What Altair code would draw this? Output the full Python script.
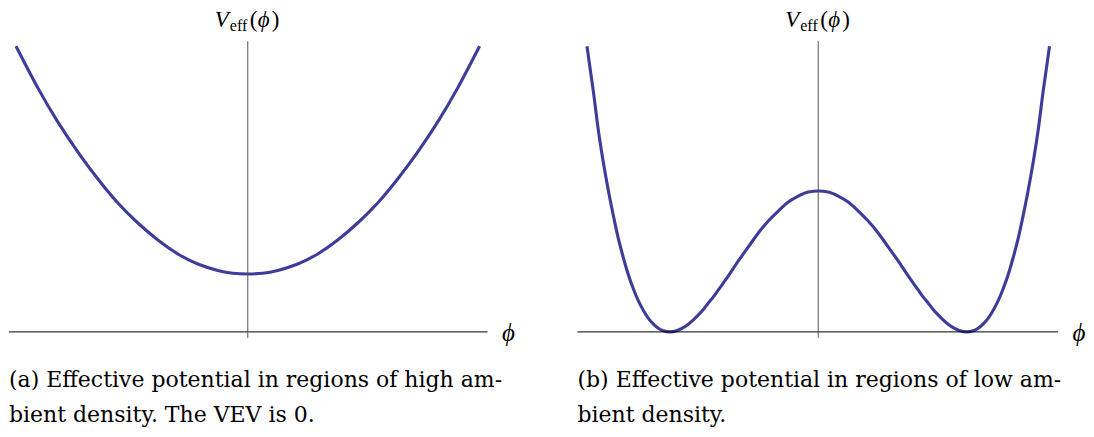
import altair as alt
import pandas as pd

# ---- data (phi in plot units, V in plot units) ----
left_phi = [-2.32, -2.1, -1.9, -1.7, -1.5, -1.3, -1.1, -0.9, -0.7, -0.5, -0.3, -0.15, 0.0,
            0.15, 0.3, 0.5, 0.7, 0.9, 1.1, 1.3, 1.5, 1.7, 1.9, 2.1, 2.32]
left_v = [2.86, 2.44, 2.10, 1.80, 1.53, 1.29, 1.09, 0.92, 0.78, 0.68, 0.615, 0.587, 0.58,
          0.587, 0.615, 0.68, 0.78, 0.92, 1.09, 1.29, 1.53, 1.80, 2.10, 2.44, 2.86]

right_phi = [-2.315, -2.25, -2.2, -2.15, -2.1, -2.05, -2.0, -1.95, -1.9, -1.85, -1.8, -1.75, -1.7,
             -1.65, -1.6, -1.55, -1.485, -1.42, -1.36, -1.3, -1.25, -1.2, -1.15, -1.1, -1.05,
             -1.0, -0.9, -0.8, -0.7, -0.6, -0.5, -0.4, -0.3, -0.2, -0.1, 0.0,
             0.1, 0.2, 0.3, 0.4, 0.5, 0.6, 0.7, 0.8, 0.9, 1.0,
             1.05, 1.1, 1.15, 1.2, 1.25, 1.3, 1.36, 1.42, 1.485, 1.55, 1.6, 1.65,
             1.7, 1.75, 1.8, 1.85, 1.9, 1.95, 2.0, 2.05, 2.1, 2.15, 2.2, 2.25, 2.315]
right_v = [2.86, 2.40, 2.01, 1.69, 1.41, 1.16, 0.93, 0.74, 0.57, 0.43, 0.31, 0.215, 0.136,
           0.078, 0.037, 0.011, 0.0, 0.011, 0.038, 0.077, 0.12, 0.17, 0.225, 0.29, 0.35,
           0.42, 0.56, 0.71, 0.85, 0.99, 1.11, 1.21, 1.30, 1.36, 1.40, 1.41,
           1.40, 1.36, 1.30, 1.21, 1.11, 0.99, 0.85, 0.71, 0.56, 0.42,
           0.35, 0.29, 0.225, 0.17, 0.12, 0.077, 0.038, 0.011, 0.0, 0.011, 0.037, 0.078,
           0.136, 0.215, 0.31, 0.43, 0.57, 0.74, 0.93, 1.16, 1.41, 1.69, 2.01, 2.40, 2.86]

caption_a = ["(a) Effective potential in regions of high am-", "bient density. The VEV is 0."]
caption_b = ["(b) Effective potential in regions of low am-", "bient density."]

CURVE = "#3d3d99"
SERIF_MATH = "Liberation Serif, DejaVu Serif"
SERIF_TEXT = "DejaVu Serif"
YDOM = [-0.98, 3.23]
ONE = pd.DataFrame({"k": [0]})


def panel(phi, v, xdom, width, caption, cap_x, interp):
    df = pd.DataFrame({"phi": phi, "V": v})
    xs = alt.Scale(domain=xdom, nice=False, zero=False)
    ys = alt.Scale(domain=YDOM, nice=False, zero=False)
    curve = alt.Chart(df).mark_line(color=CURVE, strokeWidth=3.1, interpolate=interp).encode(
        x=alt.X("phi:Q", scale=xs, axis=None),
        y=alt.Y("V:Q", scale=ys, axis=None),
    )
    hx0 = max(xdom[0], -2.41)
    haxis = alt.Chart(ONE).mark_rule(color="black", strokeWidth=1).encode(
        x=alt.datum(hx0), x2=alt.datum(2.40), y=alt.datum(0.0)
    )
    vaxis = alt.Chart(ONE).mark_rule(color="#555555", strokeWidth=1).encode(
        x=alt.datum(0.0), y=alt.datum(-0.06), y2=alt.datum(2.91)
    )
    # pixel position of phi = 0 inside this view
    cx = (0 - xdom[0]) / (xdom[1] - xdom[0]) * width

    def txt(s, dx, y, size, style="normal", font=SERIF_MATH, align="left"):
        return alt.Chart(ONE).mark_text(
            text=s, font=font, fontSize=size, fontStyle=style, align=align,
            baseline="alphabetic", color="black"
        ).encode(x=alt.value(dx), y=alt.value(y))

    label = [
        txt("V", cx - 33, 17.5, 23, "italic"),
        txt("eff", cx - 18, 21.5, 16),
        txt("(", cx + 2, 17.5, 23),
        txt("\u03d5", cx + 10, 17.5, 23, "italic"),
        txt(")", cx + 24, 17.5, 23),
    ]
    phi_lab = alt.Chart(ONE).mark_text(
        text="\u03d5", font=SERIF_MATH, fontSize=25, fontStyle="italic",
        align="center", baseline="middle", color="black"
    ).encode(x=alt.value(cx + 261), y=alt.value(324))
    caps = [
        txt(caption[0], cap_x, 378, 22, font=SERIF_TEXT),
        txt(caption[1], cap_x, 413, 22, font=SERIF_TEXT),
    ]
    return alt.layer(curve, haxis, vaxis, *label, phi_lab, *caps).properties(
        width=width, height=421
    )


left = panel(left_phi, left_v, [-2.39, 3.01], 540, caption_a, 0, "natural")
right = panel(right_phi, right_v, [-2.58, 2.68], 526, caption_b, 17, "monotone")

chart = alt.hconcat(left, right, spacing=12, bounds="flush").properties(
    padding=0
).configure_view(stroke=None)

chart.save("out.html", embed_options={"renderer": "svg", "actions": False})
